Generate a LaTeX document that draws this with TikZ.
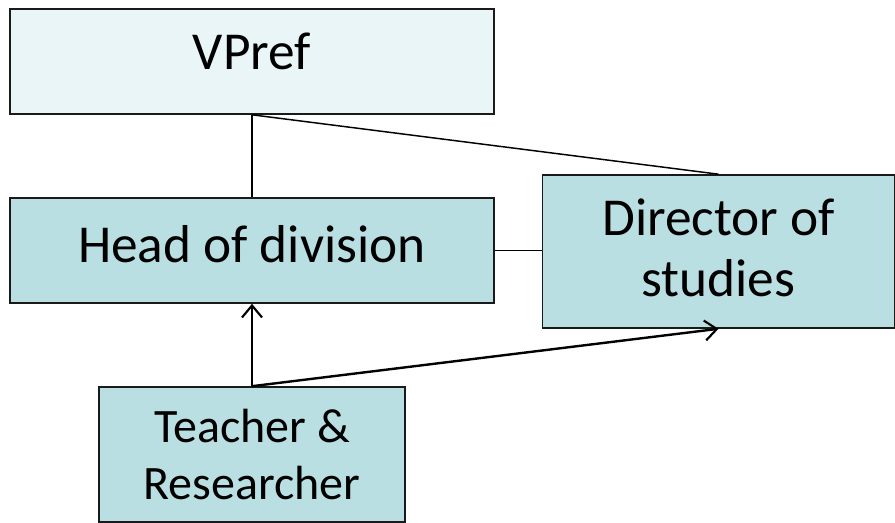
\documentclass[tikz,border=0pt]{standalone}
\usepackage{fontspec}
\setmainfont{Carlito}
\usetikzlibrary{arrows.meta}
\definecolor{lightbox}{HTML}{E9F5F6}
\definecolor{tealbox}{HTML}{B9DFE3}
\definecolor{edge}{HTML}{1A1A1A}
\begin{document}
\begin{tikzpicture}[x=0.75pt,y=-0.75pt,
  box/.style={draw=edge,line width=1.2pt,inner sep=0pt,align=center,font=\fontsize{40}{46}\selectfont},
  link/.style={draw=black,line width=1.1pt},
  arr/.style={draw=black,line width=1.8pt,-{Straight Barb[length=9pt,width=15pt,line width=1.6pt]}}]
\useasboundingbox (0,0) rectangle (895,523);
\node[box,fill=lightbox,minimum width=363pt,minimum height=78.75pt,text depth=15pt] (vpref) at (252,61.5) {VPref};
\node[box,fill=tealbox,minimum width=363pt,minimum height=78.75pt,text depth=10pt] (head) at (252,250.5) {Head of division};
\node[box,fill=tealbox,minimum width=264pt,minimum height=114.75pt,text depth=6pt] (dir) at (718.5,251.5) {Director of\\studies};
\node[box,fill=tealbox,minimum width=229.5pt,minimum height=101.25pt,font=\fontsize{36}{43}\selectfont] (teach) at (252,454.5) {Teacher \&\\Researcher};
\draw[link] (vpref.south) -- (head.north);
\draw[link] (vpref.south) -- (dir.north);
\draw[link] (head.east) -- (head.east -| dir.west);
\draw[arr] (teach.north) -- (head.south);
\draw[arr] (teach.north) -- (dir.south);
\end{tikzpicture}
\end{document}
